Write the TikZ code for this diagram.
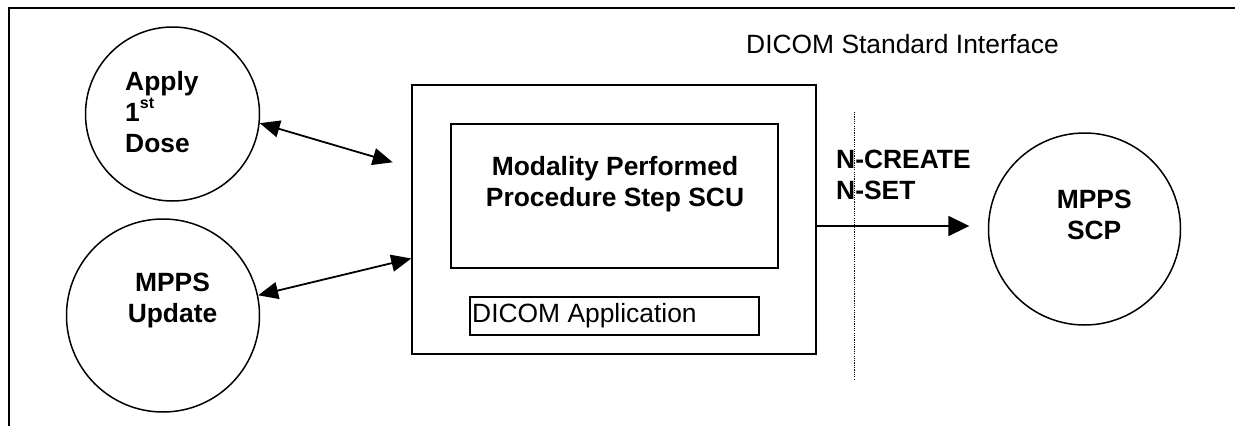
\documentclass[tikz,border=0pt]{standalone}
\usepackage{fontspec}
\setmainfont{Liberation Sans}
\usetikzlibrary{arrows.meta,calc}
\begin{document}
\begin{tikzpicture}[x=1pt,y=-1pt,
  frameline/.style={line width=1.8pt},
  circ/.style={circle,draw,line width=1.5pt,inner sep=0pt},
  boxnode/.style={rectangle,draw,line width=1.5pt,inner sep=0pt},
  btxt/.style={font=\fontsize{26.4}{31}\selectfont\bfseries,inner sep=0pt},
  rtxt/.style={font=\fontsize{26.4}{31}\selectfont,inner sep=0pt},
  arr/.style={line width=1.8pt},
  dotline/.style={line width=1.3pt,dash pattern=on 1.2pt off 1.1pt}]
\useasboundingbox (0,0) rectangle (1235,426);
% frame
\coordinate (fr1) at (1235,8);
\coordinate (fr2) at (9,8);
\coordinate (fr3) at (9,426);
\draw[frameline] (fr1) -- (fr2) -- (fr3);
% circles
\node[circ, minimum size=174pt] (c1) at (172.5,114) {};
\node[circ, minimum size=193pt] (c2) at (163,315.5) {};
\node[circ, minimum size=192pt] (c3) at (1084.5,229) {};
% boxes
\node[boxnode, minimum width=404pt, minimum height=269pt] (app) at (614,219.5) {};
\node[boxnode, minimum width=327pt, minimum height=144pt] (scu) at (614.5,196) {};
\node[boxnode, minimum width=289pt, minimum height=38pt] (dap) at (614.5,316) {};
% texts
\node[rtxt, anchor=base west] (title) at (746,53.3) {DICOM Standard Interface};
\node[btxt, anchor=north west, align=left] (c1t) at (125,71) {Apply\\1\raisebox{13pt}{\fontsize{16}{16}\selectfont st}\\Dose};
\node[btxt, anchor=north, align=center] (c2t) at (172.5,273) {MPPS\\Update};
\node[btxt, anchor=north, align=center] (scut) at (615,156) {Modality Performed\\Procedure Step SCU};
\node[rtxt, anchor=base west] (dapt) at (472,322) {DICOM Application};
\node[btxt, anchor=north west, align=left] (nt) at (836,149.5) {N-CREATE\\N-SET};
\node[btxt, anchor=north, align=center] (c3t) at (1094.2,190) {MPPS\\SCP};
% connectors
\coordinate (a1e) at (392.7,162.3);
\draw[arr, {Triangle[length=20pt,width=17pt]}-{Triangle[length=20pt,width=17pt]}] (c1.-6) -- (a1e);
\draw[arr, {Triangle[length=20pt,width=17pt]}-{Triangle[length=20pt,width=17pt]}] (c2.12) -- ($(app.north west)!0.644!(app.south west)$);
\coordinate (a3e) at (969.3,226);
\draw[arr, -{Triangle[length=21pt,width=20pt]}] ($(app.north east)!0.524!(app.south east)$) -- (a3e);
% dotted interface line
\coordinate (d1) at (854.3,111.7);
\coordinate (d2) at (854.3,380);
\draw[dotline] (d1) -- (d2);
\end{tikzpicture}
\end{document}
